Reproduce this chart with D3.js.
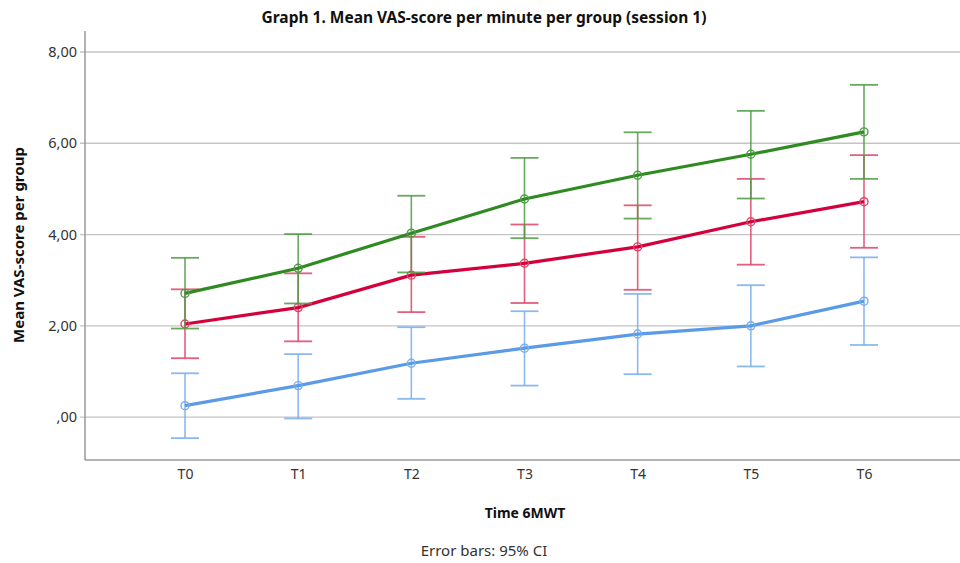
<!DOCTYPE html>
<html><head><meta charset="utf-8">
<script src="https://cdn.jsdelivr.net/npm/d3@7"></script>
<style>body{margin:0;background:#fff}svg{display:block}</style>
</head><body>
<script>
const categories = ["T0","T1","T2","T3","T4","T5","T6"];
const greenMean  = [2.71, 3.26, 4.03, 4.78, 5.30, 5.76, 6.25];
const greenLow   = [1.94, 2.49, 3.17, 3.92, 4.35, 4.79, 5.22];
const greenHigh  = [3.49, 4.01, 4.85, 5.68, 6.24, 6.71, 7.28];
const redMean    = [2.04, 2.40, 3.11, 3.37, 3.73, 4.28, 4.72];
const redLow     = [1.29, 1.66, 2.30, 2.50, 2.79, 3.34, 3.71];
const redHigh    = [2.80, 3.15, 3.95, 4.22, 4.64, 5.22, 5.74];
const blueMean   = [0.25, 0.69, 1.18, 1.51, 1.82, 2.00, 2.54];
const blueLow    = [-0.46, -0.03, 0.40, 0.69, 0.94, 1.11, 1.58];
const blueHigh   = [0.96, 1.38, 1.97, 2.32, 2.70, 2.89, 3.50];
const yTicks = [0, 2, 4, 6, 8];
const yTickLabels = [",00", "2,00", "4,00", "6,00", "8,00"];

const series = [
  {name:"blue",  color:"#5a9ae6", bar:"#7aaeec", mean:blueMean,  low:blueLow,  high:blueHigh},
  {name:"red",   color:"#d4003c", bar:"#de4468", mean:redMean,   low:redLow,   high:redHigh},
  {name:"green", color:"#2f8a22", bar:"#4f9c46", mean:greenMean, low:greenLow, high:greenHigh}
];

const W = 960, H = 563;
const pLeft = 85, pRight = 960, pTop = 31, pBottom = 460;
const svg = d3.select("body").append("svg").attr("width", W).attr("height", H);
const font = "'Noto Sans', 'Open Sans', sans-serif";

const y = d3.scaleLinear().domain([-0.94, 8.46]).range([pBottom, pTop]);
const x = d3.scalePoint().domain(categories).range([185, 864]);

svg.append("g").selectAll("line").data(yTicks).join("line")
  .attr("x1", pLeft - 5).attr("x2", pRight)
  .attr("y1", d => y(d)).attr("y2", d => y(d))
  .attr("stroke", "#c4c4c4").attr("stroke-width", 1.3);

const yAxis = d3.axisLeft(y).tickValues(yTicks).tickSize(0).tickPadding(8)
  .tickFormat((d,i) => yTickLabels[i]);
const gy = svg.append("g").attr("transform", `translate(${pLeft},0)`).call(yAxis);
gy.select(".domain").remove();
gy.selectAll("text").attr("font-family", font).attr("font-size", 14.5).attr("fill", "#333");

const xAxis = d3.axisBottom(x).tickSize(0).tickPadding(9);
const gx = svg.append("g").attr("transform", `translate(0,${pBottom})`).call(xAxis);
gx.select(".domain").remove();
gx.selectAll("text").attr("font-family", font).attr("font-size", 14).attr("fill", "#333");

svg.append("line").attr("x1", pLeft).attr("x2", pLeft).attr("y1", pTop).attr("y2", pBottom)
  .attr("stroke", "#999").attr("stroke-width", 1.5);
svg.append("line").attr("x1", pLeft).attr("x2", pRight).attr("y1", pBottom).attr("y2", pBottom)
  .attr("stroke", "#999").attr("stroke-width", 1.5);

const cap = 14;
series.forEach(s => {
  const g = svg.append("g");
  const idx = d3.range(categories.length);
  g.selectAll("line.v").data(idx).join("line").attr("class","v")
    .attr("x1", i => x(categories[i])).attr("x2", i => x(categories[i]))
    .attr("y1", i => y(s.low[i])).attr("y2", i => y(s.high[i]))
    .attr("stroke", s.bar).attr("stroke-width", 1.6).attr("opacity", 0.85);
  ["low","high"].forEach(k => {
    g.selectAll("line."+k).data(idx).join("line").attr("class",k)
      .attr("x1", i => x(categories[i]) - cap).attr("x2", i => x(categories[i]) + cap)
      .attr("y1", i => y(s[k][i])).attr("y2", i => y(s[k][i]))
      .attr("stroke", s.bar).attr("stroke-width", 1.8).attr("opacity", 0.85);
  });
  const line = d3.line().x((d,i) => x(categories[i])).y(d => y(d));
  g.append("path").datum(s.mean).attr("d", line)
    .attr("fill", "none").attr("stroke", s.color).attr("stroke-width", 3.2);
  g.selectAll("circle").data(s.mean).join("circle")
    .attr("cx", (d,i) => x(categories[i])).attr("cy", d => y(d)).attr("r", 4)
    .attr("fill", "none").attr("stroke", s.bar).attr("stroke-width", 1.4);
});

svg.append("text").attr("x", 484).attr("y", 23).attr("text-anchor", "middle")
  .attr("font-family", font).attr("font-size", 15.5).attr("font-weight", "bold").attr("fill", "#111")
  .text("Graph 1. Mean VAS-score per minute per group (session 1)");
svg.append("text").attr("transform", "translate(24,245) rotate(-90)").attr("text-anchor", "middle")
  .attr("font-family", font).attr("font-size", 15).attr("font-weight", "bold").attr("fill", "#111")
  .text("Mean VAS-score per group");
svg.append("text").attr("x", 525).attr("y", 518).attr("text-anchor", "middle")
  .attr("font-family", font).attr("font-size", 14).attr("font-weight", "bold").attr("fill", "#111")
  .text("Time 6MWT");
svg.append("text").attr("x", 484).attr("y", 556).attr("text-anchor", "middle")
  .attr("font-family", font).attr("font-size", 15).attr("fill", "#333")
  .text("Error bars: 95% CI");
</script>
</body></html>
